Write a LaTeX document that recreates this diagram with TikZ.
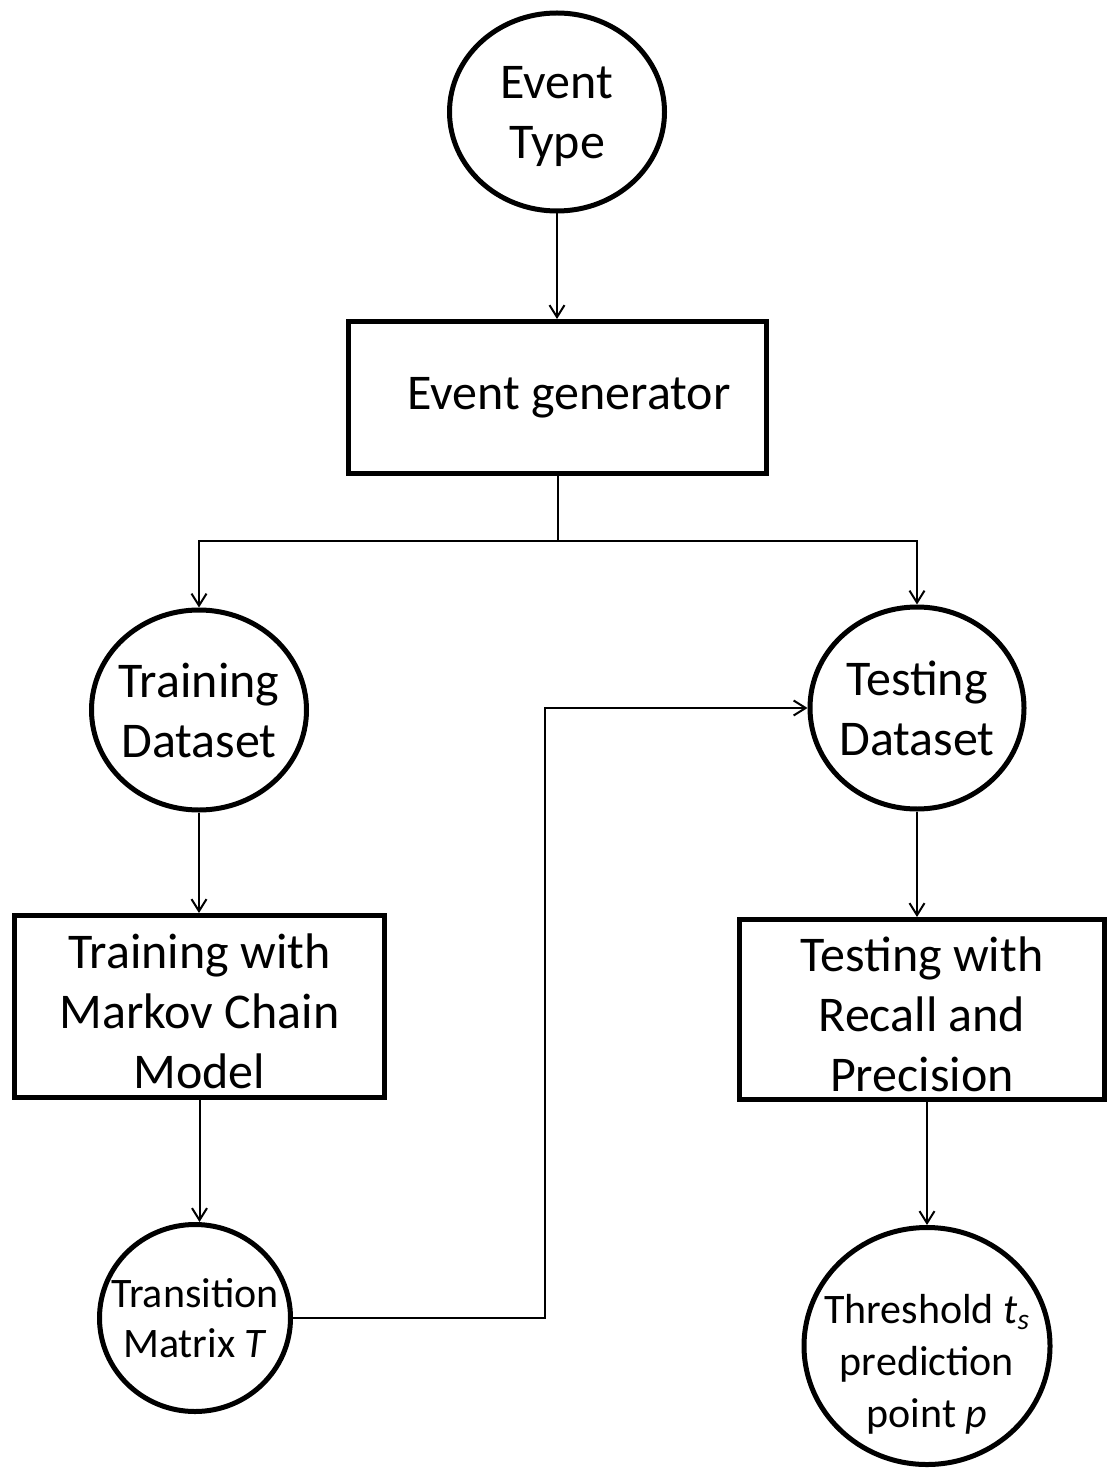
\documentclass[tikz,border=0pt]{standalone}
\usepackage{fontspec}
\setmainfont{Carlito}
\usetikzlibrary{shapes.geometric,arrows.meta}
\begin{document}
\begin{tikzpicture}[x=0.5pt,y=-0.5pt,
  bubble/.style={draw,ellipse,line width=2.5pt,inner sep=0pt},
  stage/.style={draw,rectangle,line width=2.5pt,inner sep=0pt},
  big/.style={font=\fontsize{25pt}{30pt}\selectfont,align=center,inner sep=0pt},
  small/.style={font=\fontsize{21pt}{25pt}\selectfont,align=center,inner sep=0pt},
  wire/.style={line width=1pt},
  link/.style={wire,-{Straight Barb[length=6pt,width=7.5pt]}}]
\useasboundingbox (0,0) rectangle (1108,1470);

% shapes
\node[bubble,minimum width=107.5pt,minimum height=99pt]  (type)     at (557,112)    {};
\node[stage,minimum width=209pt,minimum height=76pt]     (gen)      at (557.5,397.5) {};
\node[bubble,minimum width=107.5pt,minimum height=100pt] (train)    at (199,710)    {};
\node[bubble,minimum width=107pt,minimum height=101pt]   (test)     at (917,708)    {};
\node[stage,minimum width=185pt,minimum height=91pt]     (trainbox) at (199.5,1006.5) {};
\node[stage,minimum width=182.5pt,minimum height=90pt]   (testbox)  at (922,1009.5) {};
\node[bubble,minimum width=95.5pt,minimum height=93.5pt] (trans)    at (195,1318)   {};
\node[bubble,minimum width=123pt,minimum height=118.5pt] (thresh)   at (927,1346)   {};

% texts
\node[big,yshift=-2pt] (type-text) at (type) {Event\\Type};
\node[big] (gen-text) at (569,397.5) {Event generator};
\node[big] (train-text) at (train) {Training\\Dataset};
\node[big] (test-text) at (test) {Testing\\Dataset};
\node[big,yshift=-2.5pt] (trainbox-text) at (trainbox) {Training with\\Markov Chain\\Model};
\node[big,yshift=-2.5pt] (testbox-text) at (testbox) {Testing with\\Recall and\\Precision};
\node[small] (trans-text) at (trans) {Transition\\Matrix \textit{T}};
\node[small,font=\fontsize{21pt}{26pt}\selectfont,yshift=-9pt] (thresh-text) at (thresh)
  {Threshold \textit{t}\textsubscript{\textit{s}}\\prediction\\point \textit{p}};

% connectors
\coordinate (fork) at (557,541);
\coordinate (bend) at (545,708);
\draw[link] (type.south) -- (type.south |- gen.north);
\draw[wire] (gen.south) -- (gen.south |- fork);
\draw[link] (gen.south |- fork) -| (train.north);
\draw[link] (gen.south |- fork) -| (test.north);
\draw[link] (train.south) -- (train.south |- trainbox.north);
\draw[link] (trainbox.south) -- (trainbox.south |- trans.north);
\draw[link] (trans.east) -| (bend) -- (test.west);
\draw[link] (test.south) -- (test.south |- testbox.north);
\draw[link] (thresh.north |- testbox.south) -- (thresh.north);
\end{tikzpicture}
\end{document}
